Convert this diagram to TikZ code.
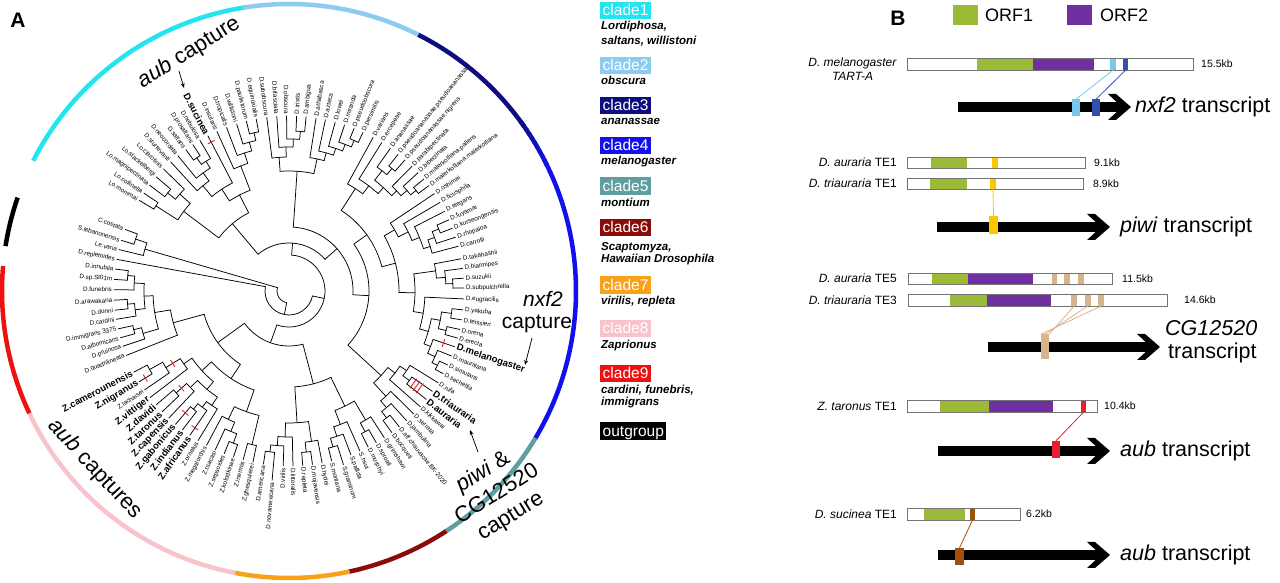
\documentclass[tikz,border=0pt]{standalone}
\usepackage{fontspec}
\setmainfont{Liberation Sans}
\usetikzlibrary{arrows.meta}
\definecolor{cla}{RGB}{35,228,240}
\definecolor{clb}{RGB}{142,203,241}
\definecolor{clc}{RGB}{13,13,128}
\definecolor{cld}{RGB}{17,17,238}
\definecolor{cle}{RGB}{94,158,160}
\definecolor{clf}{RGB}{139,11,11}
\definecolor{clg}{RGB}{249,161,27}
\definecolor{clh}{RGB}{249,195,204}
\definecolor{cli}{RGB}{238,17,17}
\definecolor{orfg}{RGB}{155,187,56}
\definecolor{orfp}{RGB}{112,48,160}
\definecolor{lblue}{RGB}{120,200,235}
\definecolor{dblue}{RGB}{50,80,170}
\definecolor{gold}{RGB}{250,200,0}
\definecolor{tanc}{RGB}{215,180,140}
\definecolor{brn}{RGB}{160,80,10}
\definecolor{tred}{RGB}{232,32,42}
\tikzset{
 tree/.style={line width=0.75pt,line cap=round},
 ring/.style={line width=4.5pt},
 lab/.style={font=\fontsize{6.3}{7}\selectfont,inner sep=0.4pt},
 blab/.style={font=\fontsize{9.5}{10}\selectfont\bfseries,inner sep=0.4pt},
 tick/.style={draw=tred,line width=0.9pt},
 cbox/.style={anchor=west,text=white,font=\fontsize{15.5}{16}\selectfont,inner xsep=2.5pt,inner ysep=0pt,minimum height=17.5pt,text height=11.3pt,text depth=0.3pt},
 csub/.style={anchor=west,font=\fontsize{11.5}{13}\selectfont\bfseries\itshape,inner sep=0pt},
 ann/.style={font=\fontsize{22}{26}\selectfont,inner sep=0pt,align=center},
 annarrow/.style={-{Stealth[length=5pt,width=4pt]},line width=0.75pt},
 barline/.style={draw=black!55,line width=0.7pt},
 segn/.style={inner sep=0pt,minimum height=11pt},
 tbox/.style={inner sep=0pt,minimum height=17pt,minimum width=8pt},
 kb/.style={anchor=west,font=\fontsize{10.5}{12}\selectfont,inner sep=0pt},
 tlab/.style={anchor=east,font=\fontsize{12}{14}\selectfont,inner sep=0pt,align=center},
 ttext/.style={anchor=west,font=\fontsize{21.5}{24}\selectfont,inner sep=0pt},
 plab/.style={font=\fontsize{21}{21}\selectfont\bfseries,inner sep=0pt},
 sqr/.style={inner sep=0pt,minimum width=25pt,minimum height=20pt},
}
% leaf: [tip radius]{id}{angle}{text}{style}
\newcommand\lf[5][175]{%
  \expandafter\xdef\csname ta#2\endcsname{#3}%
  \expandafter\xdef\csname tr#2\endcsname{#1}%
  \pgfmathtruncatemacro\isleft{and(mod(#3+720,360)>90,mod(#3+720,360)<270)}%
  \pgfmathsetmacro\lbR{#1+1.5}%
  \ifnum\isleft=1
    \node[#5,anchor=east,rotate=#3+180] (L#2) at (#3:\lbR pt) {#4};%
  \else
    \node[#5,anchor=west,rotate=#3] (L#2) at (#3:\lbR pt) {#4};%
  \fi}
% internal node: {id}{radius}{children}
\newcommand\nd[3]{%
  \gdef\ndsum{0}\gdef\ndcnt{0}\gdef\ndmin{1000}\gdef\ndmax{-1000}%
  \foreach \cid in {#3}{%
    \edef\ca{\csname ta\cid\endcsname}%
    \edef\cR{\csname tr\cid\endcsname pt}%
    \draw[tree] (\ca:#2pt) -- (\ca:\cR);%
    \pgfmathsetmacro\tmp{\ndsum+\ca}\xdef\ndsum{\tmp}%
    \pgfmathsetmacro\tmp{\ndcnt+1}\xdef\ndcnt{\tmp}%
    \pgfmathsetmacro\tmp{min(\ndmin,\ca)}\xdef\ndmin{\tmp}%
    \pgfmathsetmacro\tmp{max(\ndmax,\ca)}\xdef\ndmax{\tmp}%
  }%
  \draw[tree] (\ndmin:#2pt) arc[start angle=\ndmin,end angle=\ndmax,radius=#2pt];%
  \pgfmathsetmacro\tmp{\ndsum/\ndcnt}%
  \expandafter\xdef\csname ta#1\endcsname{\tmp}%
  \expandafter\xdef\csname tr#1\endcsname{#2}%
}
\newcommand\tk[3][4]{\draw[tick,rotate=#2] (#3pt,-#1pt) -- (#3pt,#1pt);}
\newcommand\tarrow[4]{%
  \fill (#2,#4-5) rectangle (#3-8,#4+5);
  \fill (#3-23,#4+13) -- (#3-15,#4+13) -- (#3,#4) -- (#3-15,#4-13) -- (#3-23,#4-13) -- (#3-9,#4) -- cycle;
  \coordinate (#1) at (#3,#4);}
\begin{document}
\begin{tikzpicture}[x=1pt,y=1pt]
\useasboundingbox (0,0) rectangle (1280,583);
% ---------------- Panel A ----------------
\node[plab] (pA) at (18,563) {A};
\begin{scope}[shift={(289,292)}]
% outer ring
\draw[ring,cla] (99:287pt) arc[start angle=99,end angle=153,radius=287pt];
\draw[ring,clb] (63:287pt) arc[start angle=63,end angle=99.2,radius=287pt];
\draw[ring,clc] (35:287pt) arc[start angle=35,end angle=63.2,radius=287pt];
\foreach \i in {0,...,9}{\pgfmathtruncatemacro\p{100-\i*10}
  \draw[ring,cld!\p!clc] ({26+\i}:287pt) arc[start angle={26+\i},end angle={27.2+\i},radius=287pt];}
\draw[ring,cld] (-31:287pt) arc[start angle=-31,end angle=26.2,radius=287pt];
\draw[ring,cle] (-57:287pt) arc[start angle=-57,end angle=-30.8,radius=287pt];
\draw[ring,clf] (-78:287pt) arc[start angle=-78,end angle=-56.8,radius=287pt];
\draw[ring,clg] (-101:287pt) arc[start angle=-101,end angle=-77.8,radius=287pt];
\draw[ring,clh] (-155:287pt) arc[start angle=-155,end angle=-100.8,radius=287pt];
\draw[ring,cli] (175:287pt) arc[start angle=175,end angle=205.2,radius=287pt];
\draw[ring,black] (161:287pt) arc[start angle=161,end angle=171,radius=287pt];
% leaves: clade 1
\lf{mom}{148.8}{Lo.mommai}{lab}
\lf{col}{146.0}{Lo.collinella}{lab}
\lf{mag}{142.8}{Lo.magnipectinata}{lab}
\lf{sta}{139.3}{Lo.stackelbergi}{lab}
\lf{cla}{135.8}{Lo.clarofinis}{lab}
\lf{stu}{132.5}{D.sturtevanti}{lab}
\lf{neo}{129.4}{D.neocordata}{lab}
\lf{sal}{126.1}{D.saltans}{lab}
\lf{pro}{123.3}{D.prosaltans}{lab}
\lf{neb}{120.6}{D.nebulosa}{lab}
\lf{suc}{117.6}{D.sucinea}{blab}
\lf{ins}{114.3}{D.insularis}{lab}
\lf{tro}{110.9}{D.tropicalis}{lab}
\lf{wil}{107.4}{D.willistoni}{lab}
\lf{pau}{104.1}{D.paulistorum}{lab}
\lf{equ}{100.8}{D.equinoxialis}{lab}
% clade 2
\lf{sub}{97.3}{D.subobscura}{lab}
\lf{bif}{94.0}{D.bifasciata}{lab}
\lf{obs}{90.8}{D.obscura}{lab}
\lf{tri}{87.5}{D.tristis}{lab}
\lf{amb}{84.4}{D.ambigua}{lab}
\lf{ath}{81.1}{D.athabasca}{lab}
\lf{azt}{78.0}{D.azteca}{lab}
\lf{low}{74.7}{D.lowei}{lab}
\lf{mir}{71.5}{D.miranda}{lab}
\lf{pse}{68.2}{D.pseudoobscura}{lab}
\lf{per}{65.0}{D.persimilis}{lab}
% clade 3
\lf{var}{61.3}{D.varians}{lab}
\lf{erc}{58.0}{D.ercepeae}{lab}
\lf{ana}{54.6}{D.ananassae}{lab}
\lf{ppa}{51.4}{D.pseudoananassae.pseudoananassae}{lab}
\lf{pni}{48.5}{D.pseudoananassae.nigrens}{lab}
\lf{pbi}{45.4}{D.parabipectinata}{lab}
\lf{bip}{42.5}{D.bipectinata}{lab}
\lf{mpa}{39.7}{D.malerkotliana.pallens}{lab}
\lf{mma}{37.0}{D.malerkotliana.malerkotliana}{lab}
% clade 4
\lf{osh}{33.8}{D.oshimai}{lab}
\lf{fic}{30.4}{D.ficusphila}{lab}
\lf{ele}{27.1}{D.elegans}{lab}
\lf{fuy}{24.0}{D.fuyamai}{lab}
\lf{kur}{21.0}{D.kurseongensis}{lab}
\lf{rho}{17.9}{D.rhopaloa}{lab}
\lf{car}{14.8}{D.carrolli}{lab}
\lf{tak}{10.6}{D.takahashii}{lab}
\lf{bia}{7.4}{D.biarmipes}{lab}
\lf{suz}{4.2}{D.suzukii}{lab}
\lf{spu}{1.0}{D.subpulchrella}{lab}
\lf{eug}{-2.6}{D.eugracilis}{lab}
\lf{yak}{-6.2}{D.yakuba}{lab}
\lf{tei}{-9.5}{D.teissieri}{lab}
\lf{ore}{-12.7}{D.orena}{lab}
\lf{ere}{-15.6}{D.erecta}{lab}
\lf{mel}{-18.6}{D.melanogaster}{blab}
\lf{mau}{-21.8}{D.mauritiana}{lab}
\lf{sim}{-25.0}{D.simulans}{lab}
\lf{sec}{-28.2}{D.sechellia}{lab}
% clade 5
\lf{ruf}{-31.6}{D.rufa}{lab}
\lf{tra}{-35.0}{D.triauraria}{blab}
\lf{aur}{-38.3}{D.auraria}{blab}
\lf{kik}{-41.4}{D.kikkawai}{lab}
\lf{ser}{-44.6}{D.serrata}{lab}
\lf{jam}{-47.8}{D.jambulina}{lab}
\lf{aff}{-50.9}{D.aff.chauvacae.BK-2020}{lab}
\lf{boc}{-54.0}{D.bocqueti}{lab}
% clade 6
\lf{gri}{-57.0}{D.grimshawi}{lab}
\lf{spr}{-60.1}{D.sproati}{lab}
\lf{mur}{-63.1}{D.murphyi}{lab}
\lf{hsu}{-66.1}{S.hsui}{lab}
\lf{pal}{-69.3}{S.pallida}{lab}
\lf[182]{gra}{-72.6}{S.graminum}{lab}
\lf{mon}{-75.9}{S.montana}{lab}
% clade 7
\lf{hyd}{-79.1}{D.hydei}{lab}
\lf{moj}{-82.3}{D.mojavensis}{lab}
\lf{rep}{-85.5}{D.repleta}{lab}
\lf{lit}{-88.7}{D.littoralis}{lab}
\lf{vir}{-91.9}{D.virilis}{lab}
\lf[190]{nov}{-95.1}{D.novamexicana}{lab}
\lf{ame}{-98.4}{D.americana}{lab}
% clade 8
\lf{ghe}{-101.9}{Z.ghesquierei}{lab}
\lf{ine}{-105.2}{Z.inermis}{lab}
\lf{kol}{-108.5}{Z.kolodkinae}{lab}
\lf{sep}{-111.7}{Z.sepsoides}{lab}
\lf{tsa}{-114.9}{Z.tsacasi}{lab}
\lf{meg}{-118.1}{Z.megalorchis}{lab}
\lf{orn}{-121.3}{Z.ornatus}{lab}
\lf{afr}{-124.5}{Z.africanus}{blab}
\lf{ind}{-127.5}{Z.indianus}{blab}
\lf{gab}{-130.4}{Z.gabonicus}{blab}
\lf{cap}{-133.4}{Z.capensis}{blab}
\lf{tar}{-136.4}{Z.taronus}{blab}
\lf{dav}{-139.4}{Z.davidi}{blab}
\lf{vit}{-142.5}{Z.vittiger}{blab}
\lf{lac}{-145.6}{Z.lachaisei}{lab}
\lf{nig}{-148.8}{Z.nigranus}{blab}
\lf{cam}{-152.4}{Z.camerounensis}{blab}
% clade 9
\lf{qua}{-158.4}{D.quadrilineata}{lab}
\lf{pru}{-161.6}{D.pruinosa}{lab}
\lf{alb}{-164.5}{D.albomicans}{lab}
\lf{imm}{-167.5}{D.immigrans 3375}{lab}
\lf{cdi}{-170.7}{D.cardini}{lab}
\lf{dun}{-173.7}{D.dunni}{lab}
\lf{ara}{-177.0}{D.arawakana}{lab}
\lf{fun}{-180.4}{D.funebris}{lab}
\lf{sps}{-183.8}{D.sp.St01m}{lab}
\lf{inn}{-187.2}{D.innubila}{lab}
% outgroup
\lf{rpl}{-190.4}{D.repletoides}{lab}
\lf{lev}{-193.7}{Le.varia}{lab}
\lf{sle}{-196.8}{S.lebanonensis}{lab}
\lf{cco}{-200.6}{C.costata}{lab}
% internal nodes
\nd{loa}{158}{mom,col}
\nd{lob}{156}{mag,sta}
\nd{loc}{146}{lob,cla}
\nd{lo}{132}{loa,loc}
\nd{saa}{162}{sal,pro}
\nd{sab}{154}{saa,neb}
\nd{sac}{146}{neo,sab}
\nd{sad}{136}{stu,sac}
\nd{sae}{122}{sad,suc}
\nd{wia}{162}{pau,equ}
\nd{wib}{154}{wil,wia}
\nd{wic}{145}{tro,wib}
\nd{wid}{134}{ins,wic}
\nd{sw}{108}{sae,wid}
\nd{CA}{88}{lo,sw}
\nd{oba}{160}{tri,amb}
\nd{obb}{152}{obs,oba}
\nd{obc}{144}{bif,obb}
\nd{obd}{134}{sub,obc}
\nd{psa}{164}{pse,per}
\nd{psb}{157}{mir,psa}
\nd{psc}{150}{low,psb}
\nd{psd}{143}{azt,psc}
\nd{psf}{135}{ath,psd}
\nd{CB}{120}{obd,psf}
\nd{aqa}{160}{ppa,pni}
\nd{aqb}{152}{ana,aqa}
\nd{aqc}{162}{mpa,mma}
\nd{aqd}{155}{bip,aqc}
\nd{aqe}{147}{pbi,aqd}
\nd{aqf}{140}{aqb,aqe}
\nd{aqg}{132}{erc,aqf}
\nd{CC}{122}{var,aqg}
\nd{mea}{162}{fuy,kur}
\nd{meb}{155}{mea,rho}
\nd{mec}{148}{meb,car}
\nd{med}{141}{ele,mec}
\nd{mee}{133}{fic,med}
\nd{mef}{122}{osh,mee}
\nd{taa}{164}{suz,spu}
\nd{tab}{157}{bia,taa}
\nd{tac}{148}{tak,tab}
\nd{yaa}{164}{yak,tei}
\nd{yab}{162}{ore,ere}
\nd{yac}{154}{yaa,yab}
\nd{yad}{166}{sim,sec}
\nd{yae}{160}{mau,yad}
\nd{yaf}{152}{mel,yae}
\nd{yag}{145}{yac,yaf}
\nd{yah}{136}{eug,yag}
\nd{tad}{126}{tac,yah}
\nd{CD}{110}{mef,tad}
\nd{moa}{150}{tra,aur}
\nd{mob}{142}{ruf,moa}
\nd{moc}{134}{mob,kik}
\nd{mod}{160}{aff,boc}
\nd{moe}{152}{jam,mod}
\nd{mof}{143}{ser,moe}
\nd{CE}{125}{moc,mof}
\nd{haa}{160}{spr,mur}
\nd{hab}{150}{gri,haa}
\nd{hac}{162}{gra,mon}
\nd{had}{153}{pal,hac}
\nd{hae}{143}{hsu,had}
\nd{CF}{128}{hab,hae}
\nd{via}{162}{moj,rep}
\nd{vib}{152}{hyd,via}
\nd{vic}{162}{nov,ame}
\nd{vid}{155}{vir,vic}
\nd{vie}{146}{lit,vid}
\nd{CG}{132}{vib,vie}
\nd{zaa}{158}{ghe,ine}
\nd{zab}{162}{kol,sep}
\nd{zac}{152}{zab,tsa}
\nd{zad}{142}{zac,meg}
\nd{zae}{128}{zaa,zad}
\nd{zaf}{152}{ind,gab}
\nd{zag}{145}{afr,zaf}
\nd{zah}{138}{orn,zag}
\nd{zai}{152}{tar,dav}
\nd{zaj}{138}{cap,zai}
\nd{zak}{128}{zah,zaj}
\nd{zal}{160}{nig,cam}
\nd{zam}{145}{lac,zal}
\nd{zan}{128}{vit,zam}
\nd{zao}{118}{zak,zan}
\nd{CH}{105}{zae,zao}
\nd{ima}{162}{sps,inn}
\nd{imb}{155}{fun,ima}
\nd{imc}{162}{ara,dun}
\nd{imd}{155}{imc,cdi}
\nd{ime}{145}{imb,imd}
\nd{imf}{160}{imm,alb}
\nd{img}{152}{pru,imf}
\nd{imh}{136}{ime,img}
\nd{CI}{120}{qua,imh}
\nd{oga}{162}{cco,sle}
\nd{ogb}{150}{lev,oga}
\nd{Ucd}{96}{CC,CD}
\nd{Ucde}{80}{Ucd,CE}
\nd{Ubcde}{64}{CB,Ucde}
\nd{Usoph}{48}{CA,Ubcde}
\nd{Ufg}{96}{CF,CG}
\nd{Uhi}{88}{CH,CI}
\nd{Udros}{55}{Ufg,Uhi}
\nd{Uing}{36}{Usoph,Udros}
\nd{Ux}{24}{Uing,rpl}
\nd{Uroot}{12}{Ux,ogb}
% red ticks
\tk{117.6}{168}
\tk{-18.6}{163}
\tk[6]{-36.65}{155}\tk[6]{-36.65}{159}\tk[6]{-36.65}{163}
\tk{-148.8}{168}
\tk{-148.1}{137}
\tk{-137.9}{145}
\tk{-130.4}{160}
\tk{-124.5}{166}
\end{scope}
% annotations panel A
\node[ann,rotate=32] (capA) at (189,530.5) {\textit{aub} capture};
\coordinate (capAs) at (179,512);
\coordinate (capAe) at (184,495);
\draw[annarrow] (capAs) -- (capAe);
\node[ann,rotate=-47] (capB) at (95,113.5) {\textit{aub} captures};
\node[ann,font=\fontsize{21}{25}\selectfont] (capC1) at (543,284) {\textit{nxf2}};
\node[ann,font=\fontsize{21}{25}\selectfont] (capC2) at (537,259) {capture};
\coordinate (capCs) at (532,245);
\coordinate (capCe) at (525,218);
\draw[annarrow] (capCs) -- (capCe);
\node[ann,rotate=32,font=\fontsize{22}{26}\selectfont] (capD) at (497,88.5) {\textit{piwi} \&\\CG12520\\capture};
\coordinate (capDs) at (478,131);
\coordinate (capDe) at (470,153);
\draw[annarrow] (capDs) -- (capDe);
% legend
\node[cbox,fill=cla] (lg1) at (600,572.5) {clade1};
\node[csub] (ls1a) at (601,556) {Lordiphosa,};
\node[csub] (ls1b) at (601,542) {saltans, willistoni};
\node[cbox,fill=clb] (lg2) at (600,517.5) {clade2};
\node[csub] (ls2) at (601,503) {obscura};
\node[cbox,fill=clc] (lg3) at (600,477.5) {clade3};
\node[csub] (ls3) at (601,462) {ananassae};
\node[cbox,fill=cld] (lg4) at (600,437.5) {clade4};
\node[csub] (ls4) at (601,421) {melanogaster};
\node[cbox,fill=cle] (lg5) at (600,397) {clade5};
\node[csub] (ls5) at (601,381) {montium};
\node[cbox,fill=clf] (lg6) at (600,355.5) {clade6};
\node[csub] (ls6a) at (601,335) {Scaptomyza,};
\node[csub] (ls6b) at (601,323) {Hawaiian Drosophila};
\node[cbox,fill=clg] (lg7) at (600,298) {clade7};
\node[csub] (ls7) at (601,281) {virilis, repleta};
\node[cbox,fill=clh] (lg8) at (600,254.5) {clade8};
\node[csub] (ls8) at (601,237) {Zaprionus};
\node[cbox,fill=cli] (lg9) at (600,209.5) {clade9};
\node[csub] (ls9a) at (601,193) {cardini, funebris,};
\node[csub] (ls9b) at (601,180) {immigrans};
\node[cbox,fill=black] (lg10) at (600,152) {outgroup};
% ---------------- Panel B ----------------
\node[plab] (pB) at (898,565) {B};
\node[sqr,fill=orfg] (sq1) at (965.5,568) {};
\node[anchor=west,font=\fontsize{18}{20}\selectfont,inner sep=0pt] (o1) at (985,568) {ORF1};
\node[sqr,fill=orfp] (sq2) at (1079.5,568) {};
\node[anchor=west,font=\fontsize{18}{20}\selectfont,inner sep=0pt] (o2) at (1100,568) {ORF2};
% row 1
\node[tlab] (b1) at (897,514) {\textit{D. melanogaster}\\\textit{TART-A}};
\fill[white] (907,513) rectangle (1193,525);
\fill[orfg] (977,513) rectangle (1033,525);
\fill[orfp] (1033,513) rectangle (1094,525);
\node[segn,fill=lblue,minimum width=5.5pt,minimum height=12pt] (m1a) at (1113,519) {};
\node[segn,fill=dblue,minimum width=4.5pt,minimum height=12pt] (m1b) at (1125.5,519) {};
\draw[barline] (907,513) rectangle (1193,525);
\node[kb] (k1) at (1201,519) {15.5kb};
\tarrow{a1}{958}{1131}{476}
\node[tbox,fill=lblue] (t1a) at (1076,475) {};
\node[tbox,fill=dblue] (t1b) at (1096,475) {};
\draw[lblue,line width=0.8pt] (m1a.south) -- (t1a.north);
\draw[dblue,line width=0.8pt] (m1b.south) -- (t1b.north);
\node[ttext] (x1) at (1135,476) {\textit{nxf2} transcript};
% row 2
\node[tlab] (b2) at (897,420.5) {\textit{D. auraria} TE1};
\node[tlab] (b3) at (897,399.5) {\textit{D. triauraria} TE1};
\fill[white] (907,415) rectangle (1085,426);
\fill[orfg] (931,415) rectangle (967,426);
\node[segn,fill=gold,minimum width=6pt] (p1) at (995,420.5) {};
\draw[barline] (907,415) rectangle (1085,426);
\fill[white] (907,394) rectangle (1083,405);
\fill[orfg] (930,394) rectangle (967,405);
\node[segn,fill=gold,minimum width=6pt] (p2) at (993,399.5) {};
\draw[barline] (907,394) rectangle (1083,405);
\node[kb] (k2) at (1094,420.5) {9.1kb};
\node[kb] (k3) at (1093,399.5) {8.9kb};
\tarrow{a2}{937}{1110}{356}
\node[tbox,fill=gold,minimum height=18pt,minimum width=9pt] (tp) at (993.5,358) {};
\draw[gold,line width=0.8pt] (p2.south) -- (tp.north);
\node[ttext] (x2) at (1120,356) {\textit{piwi} transcript};
% row 3
\node[tlab] (b4) at (897,304.5) {\textit{D. auraria} TE5};
\node[tlab] (b5) at (897,283) {\textit{D. triauraria} TE3};
\fill[white] (908,299) rectangle (1112,310);
\fill[orfg] (932,299) rectangle (968,310);
\fill[orfp] (968,299) rectangle (1033,310);
\node[segn,fill=tanc,minimum width=5.5pt] (q1) at (1054.5,304.5) {};
\node[segn,fill=tanc,minimum width=5.5pt] (q2) at (1067,304.5) {};
\node[segn,fill=tanc,minimum width=5.5pt] (q3) at (1081,304.5) {};
\draw[barline] (908,299) rectangle (1112,310);
\fill[white] (908,277) rectangle (1167,289);
\fill[orfg] (950,277) rectangle (987,289);
\fill[orfp] (987,277) rectangle (1051,289);
\node[segn,fill=tanc,minimum width=6pt,minimum height=12pt] (c1) at (1074,283) {};
\node[segn,fill=tanc,minimum width=6pt,minimum height=12pt] (c2) at (1087.5,283) {};
\node[segn,fill=tanc,minimum width=6pt,minimum height=12pt] (c3) at (1101,283) {};
\draw[barline] (908,277) rectangle (1167,289);
\node[kb] (k4) at (1122,304.5) {11.5kb};
\node[kb] (k5) at (1184,283) {14.6kb};
\tarrow{a3}{988}{1160}{236}
\node[tbox,fill=tanc,minimum height=25pt] (tc) at (1045,236) {};
\draw[tanc,line width=0.8pt] (c1.south) -- (tc.north east);
\draw[tanc,line width=0.8pt] (c2.south) -- (tc.north);
\draw[tanc,line width=0.8pt] (c3.south) -- (tc.north west);
\node[ttext] (x3a) at (1165,255) {\textit{CG12520}};
\node[ttext] (x3b) at (1168,230) {transcript};
% row 4
\node[tlab] (b6) at (897,177) {\textit{Z. taronus} TE1};
\fill[white] (907,171) rectangle (1097,183);
\fill[orfg] (940,171) rectangle (989,183);
\fill[orfp] (989,171) rectangle (1053,183);
\node[segn,fill=tred,minimum width=5pt,minimum height=12pt] (r1) at (1083.5,177) {};
\draw[barline] (907,171) rectangle (1097,183);
\node[kb] (k6) at (1104,177) {10.4kb};
\tarrow{a4}{938}{1110}{132}
\node[tbox,fill=tred] (tr) at (1056,133.5) {};
\draw[tred,line width=0.8pt] (r1.south) -- (tr.north);
\node[ttext] (x4) at (1120,132) {\textit{aub} transcript};
% row 5
\node[tlab] (b7) at (897,69) {\textit{D. sucinea} TE1};
\fill[white] (907,63) rectangle (1020,75);
\fill[orfg] (924,63) rectangle (965,75);
\node[segn,fill=brn,minimum width=5pt,minimum height=12pt] (u1) at (972.5,69) {};
\draw[barline] (907,63) rectangle (1020,75);
\node[kb] (k7) at (1026,69) {6.2kb};
\tarrow{a5}{938}{1110}{28}
\node[tbox,fill=brn,minimum width=9pt] (tb) at (959.5,26.5) {};
\draw[brn,line width=0.8pt] (u1.south) -- (tb.north);
\node[ttext] (x5) at (1120,28) {\textit{aub} transcript};
\end{tikzpicture}
\end{document}
